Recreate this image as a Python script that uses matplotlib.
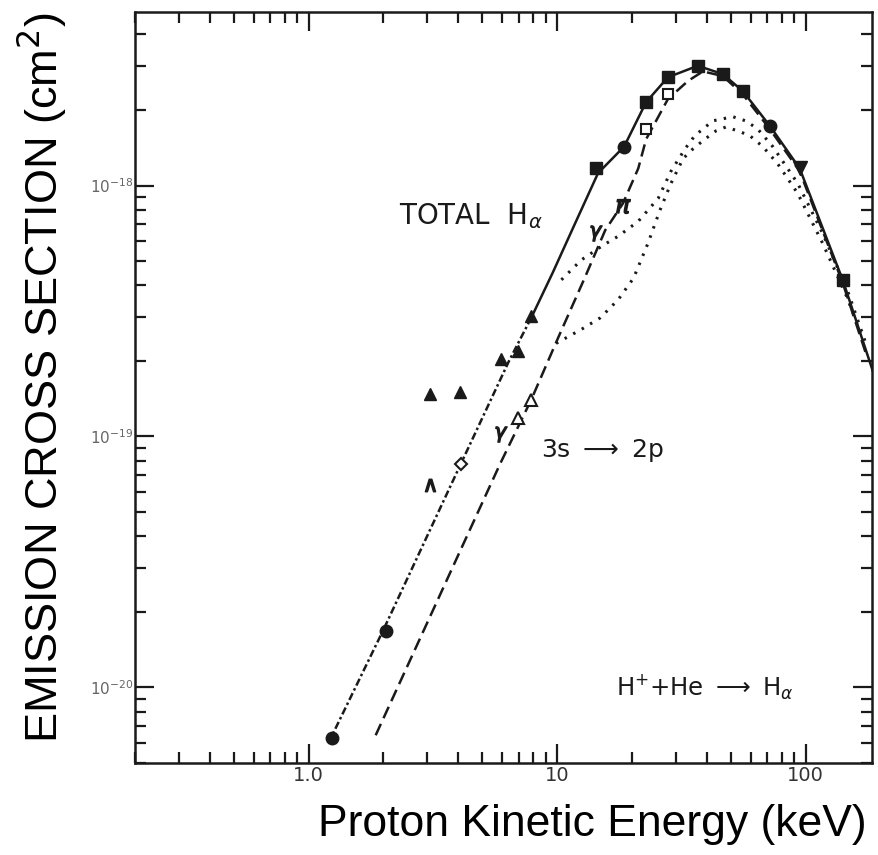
import numpy as np
import matplotlib
matplotlib.use("Agg")
import matplotlib.pyplot as plt
from matplotlib.ticker import LogLocator, NullFormatter, FixedLocator, FixedFormatter

plt.rcParams['mathtext.fontset'] = 'custom'
plt.rcParams['mathtext.rm'] = 'DejaVu Sans'
plt.rcParams['mathtext.it'] = 'DejaVu Sans:italic'

# ---------------- data ----------------
total_x = [1.2, 2.0, 4.1, 6.4, 7.9, 9.6, 11.6, 14.6, 18.6, 22.8, 27.9, 36.8,
           46.4, 55.8, 71.7, 94.6, 141, 193]
total_y = [6.0e-21, 1.7e-20, 7.8e-20, 2.0e-19, 3.0e-19, 4.5e-19, 6.8e-19,
           1.12e-18, 1.43e-18, 2.15e-18, 2.7e-18, 3.0e-18, 2.78e-18, 2.38e-18,
           1.73e-18, 1.17e-18, 4.2e-19, 1.64e-19]

s3_x = [1.86, 4.08, 5.9, 7.86, 10.1, 12.9, 15.6, 18.4, 21.2, 22.8, 27.9, 33.6,
        38.6, 46.4, 55.8, 71.7, 94.6, 141, 177]
s3_y = [6.45e-21, 3.52e-20, 7.8e-20, 1.40e-19, 2.48e-19, 4.28e-19, 6.63e-19,
        8.49e-19, 1.17e-18, 1.53e-18, 2.21e-18, 2.61e-18, 2.85e-18, 2.73e-18,
        2.31e-18, 1.68e-18, 1.14e-18, 4.09e-19, 2.06e-19]

dot1_x = [10.4, 12.5, 15.3, 17.6, 21.2, 25.5, 28.7, 32.7, 35.8, 42.3, 50.9,
          57.4, 64.1, 73.7, 92.9, 117, 147, 177]
dot1_y = [4.21e-19, 5.05e-19, 5.78e-19, 6.28e-19, 7.2e-19, 8.89e-19, 1.14e-18,
          1.40e-18, 1.58e-18, 1.81e-18, 1.88e-18, 1.81e-18, 1.68e-18, 1.43e-18,
          1.02e-18, 6.45e-19, 3.84e-19, 2.26e-19]

dot2_x = [9.9, 12.5, 14.9, 17.6, 20.3, 23.2, 25.9, 28.7, 32.1, 35.2, 39.3,
          43.5, 47.7, 53.4, 59.6, 67.2, 77.2, 92.9, 117, 147, 169]
dot2_y = [2.35e-19, 2.67e-19, 2.97e-19, 3.51e-19, 4.28e-19, 5.89e-19,
          7.96e-19, 1.02e-18, 1.28e-18, 1.40e-18, 1.53e-18, 1.65e-18, 1.71e-18,
          1.65e-18, 1.58e-18, 1.43e-18, 1.22e-18, 9.3e-19, 5.89e-19, 3.57e-19,
          2.48e-19]

fsq_x = [14.3, 22.8, 27.9, 36.8, 46.4, 55.8, 141]
fsq_y = [1.17e-18, 2.15e-18, 2.7e-18, 3.0e-18, 2.78e-18, 2.38e-18, 4.2e-19]
fci_x = [1.24, 2.04, 18.6, 71.7]
fci_y = [6.3e-21, 1.68e-20, 1.43e-18, 1.73e-18]
ftd_x = [94.6]
ftd_y = [1.17e-18]
ftu_x = [3.09, 4.08, 5.96, 6.97, 7.86]
ftu_y = [1.47e-19, 1.5e-19, 2.03e-19, 2.2e-19, 3.03e-19]
otu_x = [6.97, 7.86]
otu_y = [1.19e-19, 1.4e-19]
odi_x = [4.12]
odi_y = [7.8e-20]
osq_x = [22.8, 27.9]
osq_y = [1.68e-18, 2.31e-18]
gam_x = [5.96, 14.3]
gam_y = [1.02e-19, 6.45e-19]
car_x = [3.09]
car_y = [6.43e-20]
pi_x = [18.4]
pi_y = [8.3e-19]

xticks = [1, 10, 100]
xticklabels = ["1.0", "10", "100"]
yticks = [1e-20, 1e-19, 1e-18]
yticklabels = [r"10$^{-20}$", r"10$^{-19}$", r"10$^{-18}$"]

# ---------------- figure ----------------
fig = plt.figure(figsize=(8.79, 8.55), dpi=100)
ax = fig.add_axes([0.1536, 0.1076, 0.8385, 0.878])
ax.set_xscale('log')
ax.set_yscale('log')
ax.set_xlim(0.2, 185)
ax.set_ylim(5e-21, 4.9e-18)

ink = '#1a1a1a'
tx = np.array(total_x)
ty = np.array(total_y)
low = tx <= 8
high = tx >= 7.8
ax.plot(tx[low], ty[low], color=ink, lw=1.8, ls=(0, (3, 1.2, 1, 1.2)))
ax.plot(tx[high], ty[high], color=ink, lw=1.8, ls='-')
ax.plot(s3_x, s3_y, color=ink, lw=1.8, ls=(0, (5, 2.5)))
ax.plot(dot1_x, dot1_y, color=ink, lw=2.2, ls=(0, (0.8, 2.4)))
ax.plot(dot2_x, dot2_y, color=ink, lw=2.2, ls=(0, (0.8, 2.4)))

ax.plot(fsq_x, fsq_y, 's', color=ink, ms=8, ls='none')
ax.plot(fci_x, fci_y, 'o', color=ink, ms=9, ls='none')
ax.plot(ftd_x, ftd_y, 'v', color=ink, ms=10, ls='none')
ax.plot(ftu_x, ftu_y, '^', color=ink, ms=9, ls='none')
ax.plot(otu_x, otu_y, '^', mfc='white', mec=ink, mew=1.5, ms=8, ls='none')
ax.plot(odi_x, odi_y, 'D', mfc='white', mec=ink, mew=1.5, ms=6, ls='none')
ax.plot(osq_x, osq_y, 's', mfc='white', mec=ink, mew=1.5, ms=7, ls='none')
ax.plot(gam_x, gam_y, marker=r'$\gamma$', color=ink, ms=11, ls='none')
ax.plot(car_x, car_y, marker=r'$\wedge$', color=ink, ms=9, ls='none')
ax.plot(pi_x, pi_y, marker=r'$\pi$', color=ink, ms=10, ls='none')

ax.text(2.3, 7.0e-19, r"TOTAL  H$_\alpha$", fontsize=20, color=ink,
        ha='left', va='baseline')
ax.text(8.6, 8.3e-20, r"3s $\longrightarrow$ 2p", fontsize=18, color=ink,
        ha='left', va='baseline')
ax.text(17.3, 9.3e-21, r"H$^{+}$+He $\longrightarrow$ H$_\alpha$", fontsize=17.5,
        color=ink, ha='left', va='baseline')

for sp in ax.spines.values():
    sp.set_linewidth(1.8)
    sp.set_color(ink)

ax.xaxis.set_major_locator(FixedLocator(xticks))
ax.xaxis.set_major_formatter(FixedFormatter(xticklabels))
ax.xaxis.set_minor_locator(LogLocator(base=10, subs=np.arange(2, 10)))
ax.xaxis.set_minor_formatter(NullFormatter())
ax.yaxis.set_major_locator(FixedLocator(yticks))
ax.yaxis.set_major_formatter(FixedFormatter(yticklabels))
ax.yaxis.set_minor_locator(LogLocator(base=10, subs=np.arange(2, 10)))
ax.yaxis.set_minor_formatter(NullFormatter())
ax.tick_params(which='both', direction='in', top=True, right=True,
               color=ink, width=1.6)
ax.tick_params(which='major', length=14)
ax.tick_params(which='minor', length=8)
ax.tick_params(axis='x', labelsize=14, labelcolor='#333333', pad=2)
ax.tick_params(axis='y', labelsize=11, labelcolor='#666666', pad=1)

fig.text(42 / 879, 1 - 378 / 855, r"EMISSION CROSS SECTION (cm$^{2}$)",
         rotation=90, ha='center', va='center', fontsize=32.5,
         family='Liberation Sans', color='black')
fig.text(592 / 879, 1 - 836 / 855, "Proton Kinetic Energy (keV)",
         ha='center', va='baseline', fontsize=32,
         family='Liberation Sans', color='black')

fig.savefig("out.png", dpi=100)
